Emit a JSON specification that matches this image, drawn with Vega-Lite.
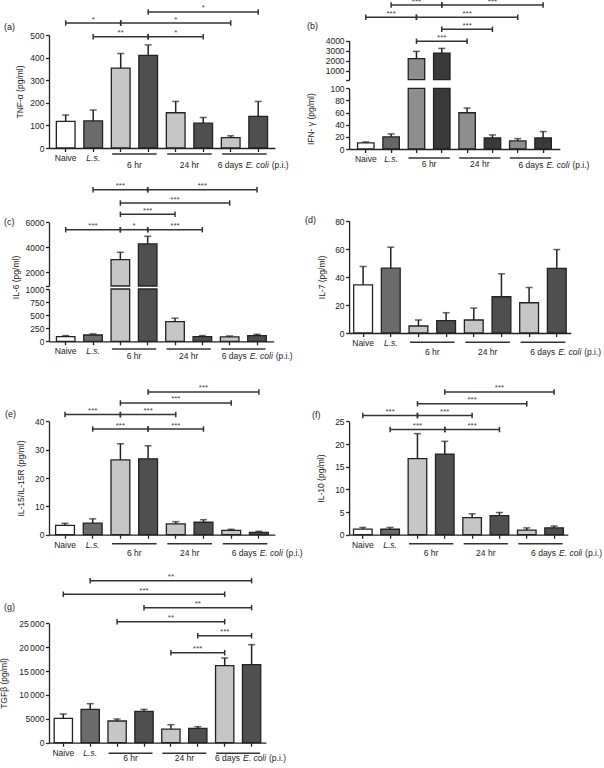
{
"$schema": "https://vega.github.io/schema/vega-lite/v6.json",
"background": "white",
"padding": {"left": -1, "top": -3, "right": 0, "bottom": 0},
"columns": 2,
"align": "each",
"bounds": "flush",
"spacing": {"row": 72, "column": 74.1},
"resolve": {"scale": {"fill": "independent"}},
"datasets": {
 "groups": [{"label":"6 hr","first":"6hr-1","last":"6hr-2"},{"label":"24 hr","first":"24hr-1","last":"24hr-2"},{"label":"6 days","first":"6d-1","last":"6d-2"}],
 "a": [{"cat":"Naive","value":118,"upper":146},{"cat":"L.s.","value":120,"upper":168},{"cat":"6hr-1","value":353,"upper":418},{"cat":"6hr-2","value":410,"upper":456},{"cat":"24hr-1","value":156,"upper":206},{"cat":"24hr-2","value":110,"upper":135},{"cat":"6d-1","value":46,"upper":54},{"cat":"6d-2","value":140,"upper":206}],
 "a_br": [{"from":"L.s.","to":"6hr-2","mid":"6hr-1","level":492,"sig":"**"},{"from":"6hr-2","to":"24hr-2","mid":"24hr-1","level":492,"sig":"*"},{"from":"Naive","to":"6hr-1","mid":"L.s.","level":553,"sig":"*"},{"from":"6hr-1","to":"6d-1","mid":"24hr-1","level":553,"sig":"*"},{"from":"6hr-2","to":"6d-2","mid":"24hr-2","level":602,"sig":"*"}],
 "b": [{"cat":"Naive","value":10,"upper":11.6},{"cat":"L.s.","value":19.9,"upper":24.9},{"cat":"6hr-1","value":2200,"upper":2933},{"cat":"6hr-2","value":2767,"upper":3233},{"cat":"24hr-1","value":59.7,"upper":67.4},{"cat":"24hr-2","value":18.2,"upper":23.2},{"cat":"6d-1","value":13.3,"upper":17.1},{"cat":"6d-2","value":18.2,"upper":28.7}],
 "b_br": [{"from":"6hr-1","to":"24hr-1","mid":"6hr-2","level":3940,"sig":"***"},{"from":"6hr-2","to":"24hr-2","mid":"24hr-1","level":5140,"sig":"***"},{"from":"Naive","to":"6hr-1","mid":"L.s.","level":6340,"sig":"***"},{"from":"6hr-1","to":"6d-1","mid":"24hr-1","level":6340,"sig":"***"},{"from":"L.s.","to":"6hr-2","mid":"6hr-1","level":7570,"sig":"***"},{"from":"6hr-2","to":"6d-2","mid":"24hr-2","level":7570,"sig":"***"}],
 "c": [{"cat":"Naive","value":90,"upper":109},{"cat":"L.s.","value":120,"upper":141},{"cat":"6hr-1","value":3013,"upper":3600},{"cat":"6hr-2","value":4267,"upper":4880},{"cat":"24hr-1","value":378,"upper":442},{"cat":"24hr-2","value":90,"upper":109},{"cat":"6d-1","value":83,"upper":102},{"cat":"6d-2","value":109,"upper":134}],
 "c_br": [{"from":"Naive","to":"6hr-1","mid":"L.s.","level":5408,"sig":"***"},{"from":"6hr-1","to":"6hr-2","level":5408,"sig":"*"},{"from":"6hr-2","to":"24hr-2","mid":"24hr-1","level":5408,"sig":"***"},{"from":"6hr-1","to":"24hr-1","mid":"6hr-2","level":6640,"sig":"***"},{"from":"6hr-1","to":"6d-1","mid":"24hr-1","level":7544,"sig":"***"},{"from":"L.s.","to":"6hr-2","mid":"6hr-1","level":8608,"sig":"***"},{"from":"6hr-2","to":"6d-2","mid":"24hr-2","level":8608,"sig":"***"}],
 "d": [{"cat":"Naive","value":34.4,"upper":47.5},{"cat":"L.s.","value":46.3,"upper":61.3},{"cat":"6hr-1","value":5,"upper":9.3},{"cat":"6hr-2","value":8.8,"upper":14.5},{"cat":"24hr-1","value":9.3,"upper":17.8},{"cat":"24hr-2","value":25.9,"upper":42.3},{"cat":"6d-1","value":21.6,"upper":32.5},{"cat":"6d-2","value":46.1,"upper":59.6}],
 "e": [{"cat":"Naive","value":3.3,"upper":4.0},{"cat":"L.s.","value":4.1,"upper":5.6},{"cat":"6hr-1","value":26.4,"upper":32.1},{"cat":"6hr-2","value":26.8,"upper":31.4},{"cat":"24hr-1","value":3.8,"upper":4.6},{"cat":"24hr-2","value":4.4,"upper":5.3},{"cat":"6d-1","value":1.5,"upper":1.9},{"cat":"6d-2","value":0.8,"upper":1.2}],
 "e_br": [{"from":"L.s.","to":"6hr-2","mid":"6hr-1","level":37.3,"sig":"***"},{"from":"6hr-2","to":"24hr-2","mid":"24hr-1","level":37.3,"sig":"***"},{"from":"Naive","to":"6hr-1","mid":"L.s.","level":42.4,"sig":"***"},{"from":"6hr-1","to":"24hr-1","mid":"6hr-2","level":42.4,"sig":"***"},{"from":"6hr-1","to":"6d-1","mid":"24hr-1","level":46.5,"sig":"***"},{"from":"6hr-2","to":"6d-2","mid":"24hr-2","level":50.4,"sig":"***"}],
 "f": [{"cat":"Naive","value":1.25,"upper":1.6},{"cat":"L.s.","value":1.2,"upper":1.6},{"cat":"6hr-1","value":16.8,"upper":22.3},{"cat":"6hr-2","value":17.8,"upper":20.6},{"cat":"24hr-1","value":3.75,"upper":4.6},{"cat":"24hr-2","value":4.2,"upper":4.9},{"cat":"6d-1","value":1.0,"upper":1.5},{"cat":"6d-2","value":1.5,"upper":1.9}],
 "f_br": [{"from":"L.s.","to":"6hr-2","mid":"6hr-1","level":23.2,"sig":"***"},{"from":"6hr-2","to":"24hr-2","mid":"24hr-1","level":23.2,"sig":"***"},{"from":"Naive","to":"6hr-1","mid":"L.s.","level":26.3,"sig":"***"},{"from":"6hr-1","to":"24hr-1","mid":"6hr-2","level":26.3,"sig":"***"},{"from":"6hr-1","to":"6d-1","mid":"24hr-1","level":28.9,"sig":"***"},{"from":"6hr-2","to":"6d-2","mid":"24hr-2","level":31.5,"sig":"***"}],
 "g": [{"cat":"Naive","value":5100,"upper":6000},{"cat":"L.s.","value":6980,"upper":8170},{"cat":"6hr-1","value":4540,"upper":4960},{"cat":"6hr-2","value":6560,"upper":6980},{"cat":"24hr-1","value":2860,"upper":3770},{"cat":"24hr-2","value":3000,"upper":3350},{"cat":"6d-1","value":16130,"upper":17740},{"cat":"6d-2","value":16340,"upper":20530}],
 "g_br": [{"from":"24hr-1","to":"6d-1","mid":"24hr-2","level":18840,"sig":"***"},{"from":"24hr-2","to":"6d-2","mid":"6d-1","level":22400,"sig":"***"},{"from":"6hr-1","to":"6d-1","mid":"24hr-1","level":25340,"sig":"**"},{"from":"6hr-2","to":"6d-2","mid":"24hr-2","level":28270,"sig":"**"},{"from":"Naive","to":"6d-1","mid":"6hr-2","level":31075,"sig":"***"},{"from":"L.s.","to":"6d-2","mid":"24hr-1","level":33925,"sig":"**"}]
},
"concat": [
{
 "width": 225.9, "height": 113,
 "title": {"text": "(a)", "dx": -45, "dy": 32},
 "layer": [
  {"data": {"name": "a"}, "mark": {"type": "bar", "stroke": "#222", "strokeWidth": 1.3},
   "encoding": {
    "x": {"field": "cat", "type": "nominal", "scale": {"domain": ["Naive","L.s.","6hr-1","6hr-2","24hr-1","24hr-2","6d-1","6d-2"], "paddingInner": 0.32, "paddingOuter": 0.267}, "axis": {"title": null, "labelAngle": 0, "labelExpr": "datum.value === 'Naive' || datum.value === 'L.s.' ? datum.value : ''", "labelFontStyle": {"condition": {"test": "datum.value === 'L.s.'", "value": "italic"}, "value": "normal"}}},
    "y": {"field": "value", "type": "quantitative", "scale": {"domain": [0, 500], "nice": false}, "axis": {"values": [0,100,200,300,400,500], "title": "TNF-α (pg/ml)"}},
    "fill": {"field": "cat", "type": "nominal", "scale": {"domain": ["Naive","L.s.","6hr-1","6hr-2","24hr-1","24hr-2","6d-1","6d-2"], "range": ["#ffffff","#6b6b6b","#c6c6c6","#4f4f4f","#c6c6c6","#4f4f4f","#c6c6c6","#4f4f4f"]}, "legend": null}}},
  {"data": {"name": "a"}, "mark": {"type": "rule", "color": "#222", "strokeWidth": 1.5},
   "encoding": {"x": {"field": "cat", "type": "nominal"}, "y": {"field": "value", "type": "quantitative", "axis": {"values": [0,100,200,300,400,500], "title": "TNF-α (pg/ml)"}}, "y2": {"field": "upper"}}},
  {"data": {"name": "a"}, "mark": {"type": "tick", "color": "#222", "size": 7, "thickness": 1.5},
   "encoding": {"x": {"field": "cat", "type": "nominal"}, "y": {"field": "upper", "type": "quantitative", "axis": {"values": [0,100,200,300,400,500], "title": "TNF-α (pg/ml)"}}}},
  {"data": {"name": "a_br"}, "mark": {"type": "rule", "color": "#333", "strokeWidth": 1.5},
   "encoding": {"x": {"field": "from", "type": "nominal"}, "x2": {"field": "to"}, "y": {"field": "level", "type": "quantitative", "axis": {"values": [0,100,200,300,400,500], "title": "TNF-α (pg/ml)"}}}},
  {"data": {"name": "a_br"}, "mark": {"type": "point", "shape": "M0,-1L0,1", "size": 30, "filled": false, "color": "#333", "strokeWidth": 1.5, "opacity": 1},
   "encoding": {"x": {"field": "from", "type": "nominal"}, "y": {"field": "level", "type": "quantitative", "axis": {"values": [0,100,200,300,400,500], "title": "TNF-α (pg/ml)"}}}},
  {"data": {"name": "a_br"}, "mark": {"type": "point", "shape": "M0,-1L0,1", "size": 30, "filled": false, "color": "#333", "strokeWidth": 1.5, "opacity": 1},
   "encoding": {"x": {"field": "to", "type": "nominal"}, "y": {"field": "level", "type": "quantitative", "axis": {"values": [0,100,200,300,400,500], "title": "TNF-α (pg/ml)"}}}},
  {"data": {"name": "a_br"}, "mark": {"type": "text", "fontSize": 8, "color": "#444", "dy": -1.5, "baseline": "alphabetic"},
   "encoding": {"x": {"field": "mid", "type": "nominal"}, "y": {"field": "level", "type": "quantitative", "axis": {"values": [0,100,200,300,400,500], "title": "TNF-α (pg/ml)"}}, "text": {"field": "sig"}}},
  {"data": {"name": "groups"}, "mark": {"type": "rule", "color": "#333", "strokeWidth": 1.5, "yOffset": 6, "xOffset": -8.5, "x2Offset": 8.5},
   "encoding": {"x": {"field": "first", "type": "nominal"}, "x2": {"field": "last"}, "y": {"datum": 0, "type": "quantitative", "axis": {"values": [0,100,200,300,400,500], "title": "TNF-α (pg/ml)"}}}},
  {"data": {"name": "groups"}, "transform": [{"filter": "datum.label !== '6 days'"}], "mark": {"type": "text", "fontSize": 8.5, "baseline": "middle", "dy": 17, "color": "#222"},
   "encoding": {"x": {"field": "first", "type": "nominal", "bandPosition": 1.235}, "y": {"datum": 0, "type": "quantitative", "axis": {"values": [0,100,200,300,400,500], "title": "TNF-α (pg/ml)"}}, "text": {"field": "label"}}},
  {"data": {"name": "groups"}, "transform": [{"filter": "datum.label === '6 days'"}], "mark": {"type": "text", "align": "left", "fontSize": 8.5, "baseline": "middle", "dy": 17, "dx": -13, "color": "#222"},
   "encoding": {"x": {"field": "first", "type": "nominal"}, "y": {"datum": 0, "type": "quantitative", "axis": {"values": [0,100,200,300,400,500], "title": "TNF-α (pg/ml)"}}, "text": {"field": "label"}}},
  {"data": {"name": "groups"}, "transform": [{"filter": "datum.label === '6 days'"}], "mark": {"type": "text", "text": "E. coli", "fontStyle": "italic", "align": "left", "fontSize": 8.5, "baseline": "middle", "dy": 17, "dx": 15, "color": "#222"},
   "encoding": {"x": {"field": "first", "type": "nominal"}, "y": {"datum": 0, "type": "quantitative", "axis": {"values": [0,100,200,300,400,500], "title": "TNF-α (pg/ml)"}}}},
  {"data": {"name": "groups"}, "transform": [{"filter": "datum.label === '6 days'"}], "mark": {"type": "text", "text": "(p.i.)", "align": "left", "fontSize": 8.5, "baseline": "middle", "dy": 17, "dx": 41, "color": "#222"},
   "encoding": {"x": {"field": "first", "type": "nominal"}, "y": {"datum": 0, "type": "quantitative", "axis": {"values": [0,100,200,300,400,500], "title": "TNF-α (pg/ml)"}}}}
 ]
},
{
 "width": 210.7, "height": 114,
 "title": {"text": "(b)", "dx": -42, "dy": 37},
 "resolve": {"scale": {"y": "independent"}, "axis": {"y": "independent"}},
 "layer": [
  {"layer": [
   {"data": {"name": "b"}, "mark": {"type": "bar", "stroke": "#222", "strokeWidth": 1.3},
    "encoding": {
     "x": {"field": "cat", "type": "nominal", "scale": {"domain": ["Naive","L.s.","6hr-1","6hr-2","24hr-1","24hr-2","6d-1","6d-2"], "paddingInner": 0.35, "paddingOuter": 0.334}, "axis": {"title": null, "labelAngle": 0, "labelExpr": "datum.value === 'Naive' || datum.value === 'L.s.' ? datum.value : ''", "labelFontStyle": {"condition": {"test": "datum.value === 'L.s.'", "value": "italic"}, "value": "normal"}}},
     "y": {"field": "value", "type": "quantitative", "scale": {"domain": [0, 100], "range": [114, 53.3], "clamp": true, "nice": false}, "axis": {"orient": "left", "values": [0,20,40,60,80,100], "title": "IFN- γ (pg/ml)", "titlePadding": 14}},
     "fill": {"field": "cat", "type": "nominal", "scale": {"domain": ["Naive","L.s.","6hr-1","6hr-2","24hr-1","24hr-2","6d-1","6d-2"], "range": ["#ffffff","#666666","#8e8e8e","#3a3a3a","#8e8e8e","#3a3a3a","#8e8e8e","#3a3a3a"]}, "legend": null}}},
   {"data": {"name": "b"}, "transform": [{"filter": "datum.value < 100"}], "mark": {"type": "rule", "color": "#222", "strokeWidth": 1.5},
    "encoding": {"x": {"field": "cat", "type": "nominal"}, "y": {"field": "value", "type": "quantitative", "axis": {"orient": "left", "values": [0,20,40,60,80,100], "title": "IFN- γ (pg/ml)", "titlePadding": 14}}, "y2": {"field": "upper"}}},
   {"data": {"name": "b"}, "transform": [{"filter": "datum.value < 100"}], "mark": {"type": "tick", "color": "#222", "size": 7, "thickness": 1.5},
    "encoding": {"x": {"field": "cat", "type": "nominal"}, "y": {"field": "upper", "type": "quantitative", "axis": {"orient": "left", "values": [0,20,40,60,80,100], "title": "IFN- γ (pg/ml)", "titlePadding": 14}}}},
   {"data": {"name": "groups"}, "mark": {"type": "rule", "color": "#333", "strokeWidth": 1.5, "yOffset": 9, "xOffset": -8, "x2Offset": 8},
    "encoding": {"x": {"field": "first", "type": "nominal"}, "x2": {"field": "last"}, "y": {"datum": 0, "type": "quantitative", "axis": {"orient": "left", "values": [0,20,40,60,80,100], "title": "IFN- γ (pg/ml)", "titlePadding": 14}}}},
   {"data": {"name": "groups"}, "transform": [{"filter": "datum.label !== '6 days'"}], "mark": {"type": "text", "fontSize": 8.5, "baseline": "middle", "dy": 15, "color": "#222"},
    "encoding": {"x": {"field": "first", "type": "nominal", "bandPosition": 1.269}, "y": {"datum": 0, "type": "quantitative", "axis": {"orient": "left", "values": [0,20,40,60,80,100], "title": "IFN- γ (pg/ml)", "titlePadding": 14}}, "text": {"field": "label"}}},
   {"data": {"name": "groups"}, "transform": [{"filter": "datum.label === '6 days'"}], "mark": {"type": "text", "align": "left", "fontSize": 8.5, "baseline": "middle", "dy": 16, "dx": 0.6, "color": "#222"},
    "encoding": {"x": {"field": "first", "type": "nominal"}, "y": {"datum": 0, "type": "quantitative", "axis": {"orient": "left", "values": [0,20,40,60,80,100], "title": "IFN- γ (pg/ml)", "titlePadding": 14}}, "text": {"field": "label"}}},
   {"data": {"name": "groups"}, "transform": [{"filter": "datum.label === '6 days'"}], "mark": {"type": "text", "text": "E. coli", "fontStyle": "italic", "align": "left", "fontSize": 8.5, "baseline": "middle", "dy": 16, "dx": 28.6, "color": "#222"},
    "encoding": {"x": {"field": "first", "type": "nominal"}, "y": {"datum": 0, "type": "quantitative", "axis": {"orient": "left", "values": [0,20,40,60,80,100], "title": "IFN- γ (pg/ml)", "titlePadding": 14}}}},
   {"data": {"name": "groups"}, "transform": [{"filter": "datum.label === '6 days'"}], "mark": {"type": "text", "text": "(p.i.)", "align": "left", "fontSize": 8.5, "baseline": "middle", "dy": 16, "dx": 54.6, "color": "#222"},
    "encoding": {"x": {"field": "first", "type": "nominal"}, "y": {"datum": 0, "type": "quantitative", "axis": {"orient": "left", "values": [0,20,40,60,80,100], "title": "IFN- γ (pg/ml)", "titlePadding": 14}}}}
  ]},
  {"layer": [
   {"data": {"name": "b"}, "transform": [{"filter": "datum.value >= 100"}], "mark": {"type": "bar", "stroke": "#222", "strokeWidth": 1.3},
    "encoding": {
     "x": {"field": "cat", "type": "nominal"},
     "y": {"field": "value", "type": "quantitative", "scale": {"domain": [100, 4000], "range": [44.7, 5.7], "clamp": true, "nice": false}, "axis": {"orient": "left", "values": [100,1000,2000,3000,4000], "labelExpr": "datum.value < 1000 ? '' : format(datum.value, 'd')", "title": null}},
     "y2": {"datum": 100},
     "fill": {"field": "cat", "type": "nominal", "legend": null}}},
   {"data": {"name": "b"}, "transform": [{"filter": "datum.value >= 100"}], "mark": {"type": "rule", "color": "#222", "strokeWidth": 1.5},
    "encoding": {"x": {"field": "cat", "type": "nominal"}, "y": {"field": "value", "type": "quantitative", "axis": {"orient": "left", "values": [100,1000,2000,3000,4000], "labelExpr": "datum.value < 1000 ? '' : format(datum.value, 'd')", "title": null}}, "y2": {"field": "upper"}}},
   {"data": {"name": "b"}, "transform": [{"filter": "datum.value >= 100"}], "mark": {"type": "tick", "color": "#222", "size": 7, "thickness": 1.5},
    "encoding": {"x": {"field": "cat", "type": "nominal"}, "y": {"field": "upper", "type": "quantitative", "axis": {"orient": "left", "values": [100,1000,2000,3000,4000], "labelExpr": "datum.value < 1000 ? '' : format(datum.value, 'd')", "title": null}}}}
  ]},
  {"layer": [
   {"data": {"name": "b_br"}, "mark": {"type": "rule", "color": "#333", "strokeWidth": 1.5},
    "encoding": {"x": {"field": "from", "type": "nominal"}, "x2": {"field": "to"}, "y": {"field": "level", "type": "quantitative", "scale": {"domain": [100, 4000], "range": [44.7, 5.7], "nice": false}, "axis": null}}},
   {"data": {"name": "b_br"}, "mark": {"type": "point", "shape": "M0,-1L0,1", "size": 30, "filled": false, "color": "#333", "strokeWidth": 1.5, "opacity": 1},
    "encoding": {"x": {"field": "from", "type": "nominal"}, "y": {"field": "level", "type": "quantitative", "axis": null}}},
   {"data": {"name": "b_br"}, "mark": {"type": "point", "shape": "M0,-1L0,1", "size": 30, "filled": false, "color": "#333", "strokeWidth": 1.5, "opacity": 1},
    "encoding": {"x": {"field": "to", "type": "nominal"}, "y": {"field": "level", "type": "quantitative", "axis": null}}},
   {"data": {"name": "b_br"}, "mark": {"type": "text", "fontSize": 8, "color": "#444", "dy": -1.5, "baseline": "alphabetic"},
    "encoding": {"x": {"field": "mid", "type": "nominal"}, "y": {"field": "level", "type": "quantitative", "axis": null}, "text": {"field": "sig"}}}
  ]}
 ]
},
{
 "width": 224.7, "height": 120.3,
 "title": {"text": "(c)", "dx": -45, "dy": 49},
 "resolve": {"scale": {"y": "independent"}, "axis": {"y": "independent"}},
 "layer": [
  {"layer": [
   {"data": {"name": "c"}, "mark": {"type": "bar", "stroke": "#222", "strokeWidth": 1.3},
    "encoding": {
     "x": {"field": "cat", "type": "nominal", "scale": {"domain": ["Naive","L.s.","6hr-1","6hr-2","24hr-1","24hr-2","6d-1","6d-2"], "paddingInner": 0.32, "paddingOuter": 0.271}, "axis": {"title": null, "labelAngle": 0, "labelExpr": "datum.value === 'Naive' || datum.value === 'L.s.' ? datum.value : ''", "labelFontStyle": {"condition": {"test": "datum.value === 'L.s.'", "value": "italic"}, "value": "normal"}}},
     "y": {"field": "value", "type": "quantitative", "scale": {"domain": [0, 1000], "range": [120.3, 68], "clamp": true, "nice": false}, "axis": {"orient": "left", "values": [0,250,500,750,1000], "labelExpr": "format(datum.value, 'd')", "title": "IL-6 (pg/ml)", "titleY": 56}},
     "fill": {"field": "cat", "type": "nominal", "scale": {"domain": ["Naive","L.s.","6hr-1","6hr-2","24hr-1","24hr-2","6d-1","6d-2"], "range": ["#ffffff","#6b6b6b","#c6c6c6","#4f4f4f","#c6c6c6","#4f4f4f","#c6c6c6","#4f4f4f"]}, "legend": null}}},
   {"data": {"name": "c"}, "transform": [{"filter": "datum.value < 900"}], "mark": {"type": "rule", "color": "#222", "strokeWidth": 1.5},
    "encoding": {"x": {"field": "cat", "type": "nominal"}, "y": {"field": "value", "type": "quantitative", "axis": {"orient": "left", "values": [0,250,500,750,1000], "labelExpr": "format(datum.value, 'd')", "title": "IL-6 (pg/ml)", "titleY": 56}}, "y2": {"field": "upper"}}},
   {"data": {"name": "c"}, "transform": [{"filter": "datum.value < 900"}], "mark": {"type": "tick", "color": "#222", "size": 7, "thickness": 1.5},
    "encoding": {"x": {"field": "cat", "type": "nominal"}, "y": {"field": "upper", "type": "quantitative", "axis": {"orient": "left", "values": [0,250,500,750,1000], "labelExpr": "format(datum.value, 'd')", "title": "IL-6 (pg/ml)", "titleY": 56}}}},
   {"data": {"name": "groups"}, "mark": {"type": "rule", "color": "#333", "strokeWidth": 1.5, "yOffset": 7.7, "xOffset": -8.5, "x2Offset": 8.5},
    "encoding": {"x": {"field": "first", "type": "nominal"}, "x2": {"field": "last"}, "y": {"datum": 0, "type": "quantitative", "axis": {"orient": "left", "values": [0,250,500,750,1000], "labelExpr": "format(datum.value, 'd')", "title": "IL-6 (pg/ml)", "titleY": 56}}}},
   {"data": {"name": "groups"}, "transform": [{"filter": "datum.label !== '6 days'"}], "mark": {"type": "text", "fontSize": 8.5, "baseline": "middle", "dy": 14.4, "color": "#222"},
    "encoding": {"x": {"field": "first", "type": "nominal", "bandPosition": 1.235}, "y": {"datum": 0, "type": "quantitative", "axis": {"orient": "left", "values": [0,250,500,750,1000], "labelExpr": "format(datum.value, 'd')", "title": "IL-6 (pg/ml)", "titleY": 56}}, "text": {"field": "label"}}},
   {"data": {"name": "groups"}, "transform": [{"filter": "datum.label === '6 days'"}], "mark": {"type": "text", "align": "left", "fontSize": 8.5, "baseline": "middle", "dy": 14.4, "dx": -8, "color": "#222"},
    "encoding": {"x": {"field": "first", "type": "nominal"}, "y": {"datum": 0, "type": "quantitative", "axis": {"orient": "left", "values": [0,250,500,750,1000], "labelExpr": "format(datum.value, 'd')", "title": "IL-6 (pg/ml)", "titleY": 56}}, "text": {"field": "label"}}},
   {"data": {"name": "groups"}, "transform": [{"filter": "datum.label === '6 days'"}], "mark": {"type": "text", "text": "E. coli", "fontStyle": "italic", "align": "left", "fontSize": 8.5, "baseline": "middle", "dy": 14.4, "dx": 20, "color": "#222"},
    "encoding": {"x": {"field": "first", "type": "nominal"}, "y": {"datum": 0, "type": "quantitative", "axis": {"orient": "left", "values": [0,250,500,750,1000], "labelExpr": "format(datum.value, 'd')", "title": "IL-6 (pg/ml)", "titleY": 56}}}},
   {"data": {"name": "groups"}, "transform": [{"filter": "datum.label === '6 days'"}], "mark": {"type": "text", "text": "(p.i.)", "align": "left", "fontSize": 8.5, "baseline": "middle", "dy": 14.4, "dx": 46, "color": "#222"},
    "encoding": {"x": {"field": "first", "type": "nominal"}, "y": {"datum": 0, "type": "quantitative", "axis": {"orient": "left", "values": [0,250,500,750,1000], "labelExpr": "format(datum.value, 'd')", "title": "IL-6 (pg/ml)", "titleY": 56}}}}
  ]},
  {"layer": [
   {"data": {"name": "c"}, "transform": [{"filter": "datum.value >= 900"}], "mark": {"type": "bar", "stroke": "#222", "strokeWidth": 1.3},
    "encoding": {
     "x": {"field": "cat", "type": "nominal"},
     "y": {"field": "value", "type": "quantitative", "scale": {"domain": [900, 6000], "range": [65, 1.3], "clamp": true, "nice": false}, "axis": {"orient": "left", "values": [900,2000,4000,6000], "labelExpr": "datum.value < 1000 ? '' : format(datum.value, 'd')", "title": null}},
     "y2": {"datum": 900},
     "fill": {"field": "cat", "type": "nominal", "legend": null}}},
   {"data": {"name": "c"}, "transform": [{"filter": "datum.value >= 900"}], "mark": {"type": "rule", "color": "#222", "strokeWidth": 1.5},
    "encoding": {"x": {"field": "cat", "type": "nominal"}, "y": {"field": "value", "type": "quantitative", "axis": {"orient": "left", "values": [900,2000,4000,6000], "labelExpr": "datum.value < 1000 ? '' : format(datum.value, 'd')", "title": null}}, "y2": {"field": "upper"}}},
   {"data": {"name": "c"}, "transform": [{"filter": "datum.value >= 900"}], "mark": {"type": "tick", "color": "#222", "size": 7, "thickness": 1.5},
    "encoding": {"x": {"field": "cat", "type": "nominal"}, "y": {"field": "upper", "type": "quantitative", "axis": {"orient": "left", "values": [900,2000,4000,6000], "labelExpr": "datum.value < 1000 ? '' : format(datum.value, 'd')", "title": null}}}}
  ]},
  {"layer": [
   {"data": {"name": "c_br"}, "mark": {"type": "rule", "color": "#333", "strokeWidth": 1.5},
    "encoding": {"x": {"field": "from", "type": "nominal"}, "x2": {"field": "to"}, "y": {"field": "level", "type": "quantitative", "scale": {"domain": [900, 6000], "range": [65, 1.3], "nice": false}, "axis": null}}},
   {"data": {"name": "c_br"}, "mark": {"type": "point", "shape": "M0,-1L0,1", "size": 30, "filled": false, "color": "#333", "strokeWidth": 1.5, "opacity": 1},
    "encoding": {"x": {"field": "from", "type": "nominal"}, "y": {"field": "level", "type": "quantitative", "axis": null}}},
   {"data": {"name": "c_br"}, "mark": {"type": "point", "shape": "M0,-1L0,1", "size": 30, "filled": false, "color": "#333", "strokeWidth": 1.5, "opacity": 1},
    "encoding": {"x": {"field": "to", "type": "nominal"}, "y": {"field": "level", "type": "quantitative", "axis": null}}},
   {"data": {"name": "c_br"}, "transform": [{"filter": "isValid(datum.mid)"}], "mark": {"type": "text", "fontSize": 8, "color": "#444", "dy": -1.5, "baseline": "alphabetic"},
    "encoding": {"x": {"field": "mid", "type": "nominal"}, "y": {"field": "level", "type": "quantitative", "axis": null}, "text": {"field": "sig"}}},
   {"data": {"name": "c_br"}, "transform": [{"filter": "!isValid(datum.mid)"}], "mark": {"type": "text", "fontSize": 8, "color": "#444", "dy": -1.5, "baseline": "alphabetic"},
    "encoding": {"x": {"field": "from", "type": "nominal", "bandPosition": 1.235}, "y": {"field": "level", "type": "quantitative", "axis": null}, "text": {"field": "sig"}}}
  ]}
 ]
},
{
 "width": 221.7, "height": 112,
 "title": {"text": "(d)", "dx": -44, "dy": 12},
 "layer": [
  {"data": {"name": "d"}, "mark": {"type": "bar", "stroke": "#222", "strokeWidth": 1.3},
   "encoding": {
    "x": {"field": "cat", "type": "nominal", "scale": {"domain": ["Naive","L.s.","6hr-1","6hr-2","24hr-1","24hr-2","6d-1","6d-2"], "paddingInner": 0.32, "paddingOuter": 0.166}, "axis": {"title": null, "labelAngle": 0, "labelExpr": "datum.value === 'Naive' || datum.value === 'L.s.' ? datum.value : ''", "labelFontStyle": {"condition": {"test": "datum.value === 'L.s.'", "value": "italic"}, "value": "normal"}}},
    "y": {"field": "value", "type": "quantitative", "scale": {"domain": [0, 80], "nice": false}, "axis": {"values": [0,20,40,60,80], "title": "IL-7 (pg/ml)", "titlePadding": 8}},
    "fill": {"field": "cat", "type": "nominal", "scale": {"domain": ["Naive","L.s.","6hr-1","6hr-2","24hr-1","24hr-2","6d-1","6d-2"], "range": ["#ffffff","#6b6b6b","#c6c6c6","#4f4f4f","#c6c6c6","#4f4f4f","#c6c6c6","#4f4f4f"]}, "legend": null}}},
  {"data": {"name": "d"}, "mark": {"type": "rule", "color": "#222", "strokeWidth": 1.5},
   "encoding": {"x": {"field": "cat", "type": "nominal"}, "y": {"field": "value", "type": "quantitative", "axis": {"values": [0,20,40,60,80], "title": "IL-7 (pg/ml)", "titlePadding": 8}}, "y2": {"field": "upper"}}},
  {"data": {"name": "d"}, "mark": {"type": "tick", "color": "#222", "size": 7, "thickness": 1.5},
   "encoding": {"x": {"field": "cat", "type": "nominal"}, "y": {"field": "upper", "type": "quantitative", "axis": {"values": [0,20,40,60,80], "title": "IL-7 (pg/ml)", "titlePadding": 8}}}},
  {"data": {"name": "groups"}, "mark": {"type": "rule", "color": "#333", "strokeWidth": 1.5, "yOffset": 9.3, "xOffset": -8.5, "x2Offset": 8.5},
   "encoding": {"x": {"field": "first", "type": "nominal"}, "x2": {"field": "last"}, "y": {"datum": 0, "type": "quantitative", "axis": {"values": [0,20,40,60,80], "title": "IL-7 (pg/ml)", "titlePadding": 8}}}},
  {"data": {"name": "groups"}, "transform": [{"filter": "datum.label !== '6 days'"}], "mark": {"type": "text", "fontSize": 8.5, "baseline": "middle", "dy": 19.3, "color": "#222"},
   "encoding": {"x": {"field": "first", "type": "nominal", "bandPosition": 1.235}, "y": {"datum": 0, "type": "quantitative", "axis": {"values": [0,20,40,60,80], "title": "IL-7 (pg/ml)", "titlePadding": 8}}, "text": {"field": "label"}}},
  {"data": {"name": "groups"}, "transform": [{"filter": "datum.label === '6 days'"}], "mark": {"type": "text", "align": "left", "fontSize": 8.5, "baseline": "middle", "dy": 19.3, "dx": 1, "color": "#222"},
   "encoding": {"x": {"field": "first", "type": "nominal"}, "y": {"datum": 0, "type": "quantitative", "axis": {"values": [0,20,40,60,80], "title": "IL-7 (pg/ml)", "titlePadding": 8}}, "text": {"field": "label"}}},
  {"data": {"name": "groups"}, "transform": [{"filter": "datum.label === '6 days'"}], "mark": {"type": "text", "text": "E. coli", "fontStyle": "italic", "align": "left", "fontSize": 8.5, "baseline": "middle", "dy": 19.3, "dx": 29, "color": "#222"},
   "encoding": {"x": {"field": "first", "type": "nominal"}, "y": {"datum": 0, "type": "quantitative", "axis": {"values": [0,20,40,60,80], "title": "IL-7 (pg/ml)", "titlePadding": 8}}}},
  {"data": {"name": "groups"}, "transform": [{"filter": "datum.label === '6 days'"}], "mark": {"type": "text", "text": "(p.i.)", "align": "left", "fontSize": 8.5, "baseline": "middle", "dy": 19.3, "dx": 55, "color": "#222"},
   "encoding": {"x": {"field": "first", "type": "nominal"}, "y": {"datum": 0, "type": "quantitative", "axis": {"values": [0,20,40,60,80], "title": "IL-7 (pg/ml)", "titlePadding": 8}}}}
 ]
},
{
 "width": 225.9, "height": 120.7,
 "title": {"text": "(e)", "dx": -44, "dy": 38.3},
 "layer": [
  {"data": {"name": "e"}, "mark": {"type": "bar", "stroke": "#222", "strokeWidth": 1.3},
   "encoding": {
    "x": {"field": "cat", "type": "nominal", "scale": {"domain": ["Naive","L.s.","6hr-1","6hr-2","24hr-1","24hr-2","6d-1","6d-2"], "paddingInner": 0.32, "paddingOuter": 0.238}, "axis": {"title": null, "labelAngle": 0, "labelExpr": "datum.value === 'Naive' || datum.value === 'L.s.' ? datum.value : ''", "labelFontStyle": {"condition": {"test": "datum.value === 'L.s.'", "value": "italic"}, "value": "normal"}}},
    "y": {"field": "value", "type": "quantitative", "scale": {"domain": [0, 40], "range": [120.7, 7.4], "nice": false}, "axis": {"values": [0,10,20,30,40], "title": "IL-15/IL-15R (pg/ml)", "titlePadding": 9}},
    "fill": {"field": "cat", "type": "nominal", "scale": {"domain": ["Naive","L.s.","6hr-1","6hr-2","24hr-1","24hr-2","6d-1","6d-2"], "range": ["#ffffff","#6b6b6b","#c6c6c6","#4f4f4f","#c6c6c6","#4f4f4f","#c6c6c6","#4f4f4f"]}, "legend": null}}},
  {"data": {"name": "e"}, "mark": {"type": "rule", "color": "#222", "strokeWidth": 1.5},
   "encoding": {"x": {"field": "cat", "type": "nominal"}, "y": {"field": "value", "type": "quantitative", "axis": {"values": [0,10,20,30,40], "title": "IL-15/IL-15R (pg/ml)", "titlePadding": 9}}, "y2": {"field": "upper"}}},
  {"data": {"name": "e"}, "mark": {"type": "tick", "color": "#222", "size": 7, "thickness": 1.5},
   "encoding": {"x": {"field": "cat", "type": "nominal"}, "y": {"field": "upper", "type": "quantitative", "axis": {"values": [0,10,20,30,40], "title": "IL-15/IL-15R (pg/ml)", "titlePadding": 9}}}},
  {"data": {"name": "e_br"}, "mark": {"type": "rule", "color": "#333", "strokeWidth": 1.5},
   "encoding": {"x": {"field": "from", "type": "nominal"}, "x2": {"field": "to"}, "y": {"field": "level", "type": "quantitative", "axis": {"values": [0,10,20,30,40], "title": "IL-15/IL-15R (pg/ml)", "titlePadding": 9}}}},
  {"data": {"name": "e_br"}, "mark": {"type": "point", "shape": "M0,-1L0,1", "size": 30, "filled": false, "color": "#333", "strokeWidth": 1.5, "opacity": 1},
   "encoding": {"x": {"field": "from", "type": "nominal"}, "y": {"field": "level", "type": "quantitative", "axis": {"values": [0,10,20,30,40], "title": "IL-15/IL-15R (pg/ml)", "titlePadding": 9}}}},
  {"data": {"name": "e_br"}, "mark": {"type": "point", "shape": "M0,-1L0,1", "size": 30, "filled": false, "color": "#333", "strokeWidth": 1.5, "opacity": 1},
   "encoding": {"x": {"field": "to", "type": "nominal"}, "y": {"field": "level", "type": "quantitative", "axis": {"values": [0,10,20,30,40], "title": "IL-15/IL-15R (pg/ml)", "titlePadding": 9}}}},
  {"data": {"name": "e_br"}, "mark": {"type": "text", "fontSize": 8, "color": "#444", "dy": -1.5, "baseline": "alphabetic"},
   "encoding": {"x": {"field": "mid", "type": "nominal"}, "y": {"field": "level", "type": "quantitative", "axis": {"values": [0,10,20,30,40], "title": "IL-15/IL-15R (pg/ml)", "titlePadding": 9}}, "text": {"field": "sig"}}},
  {"data": {"name": "groups"}, "mark": {"type": "rule", "color": "#333", "strokeWidth": 1.5, "yOffset": 9, "xOffset": -8.5, "x2Offset": 8.5},
   "encoding": {"x": {"field": "first", "type": "nominal"}, "x2": {"field": "last"}, "y": {"datum": 0, "type": "quantitative", "axis": {"values": [0,10,20,30,40], "title": "IL-15/IL-15R (pg/ml)", "titlePadding": 9}}}},
  {"data": {"name": "groups"}, "transform": [{"filter": "datum.label !== '6 days'"}], "mark": {"type": "text", "fontSize": 8.5, "baseline": "middle", "dy": 18.3, "color": "#222"},
   "encoding": {"x": {"field": "first", "type": "nominal", "bandPosition": 1.235}, "y": {"datum": 0, "type": "quantitative", "axis": {"values": [0,10,20,30,40], "title": "IL-15/IL-15R (pg/ml)", "titlePadding": 9}}, "text": {"field": "label"}}},
  {"data": {"name": "groups"}, "transform": [{"filter": "datum.label === '6 days'"}], "mark": {"type": "text", "align": "left", "fontSize": 8.5, "baseline": "middle", "dy": 18.3, "dx": 0.5, "color": "#222"},
   "encoding": {"x": {"field": "first", "type": "nominal"}, "y": {"datum": 0, "type": "quantitative", "axis": {"values": [0,10,20,30,40], "title": "IL-15/IL-15R (pg/ml)", "titlePadding": 9}}, "text": {"field": "label"}}},
  {"data": {"name": "groups"}, "transform": [{"filter": "datum.label === '6 days'"}], "mark": {"type": "text", "text": "E. coli", "fontStyle": "italic", "align": "left", "fontSize": 8.5, "baseline": "middle", "dy": 18.3, "dx": 28.5, "color": "#222"},
   "encoding": {"x": {"field": "first", "type": "nominal"}, "y": {"datum": 0, "type": "quantitative", "axis": {"values": [0,10,20,30,40], "title": "IL-15/IL-15R (pg/ml)", "titlePadding": 9}}}},
  {"data": {"name": "groups"}, "transform": [{"filter": "datum.label === '6 days'"}], "mark": {"type": "text", "text": "(p.i.)", "align": "left", "fontSize": 8.5, "baseline": "middle", "dy": 18.3, "dx": 54.5, "color": "#222"},
   "encoding": {"x": {"field": "first", "type": "nominal"}, "y": {"datum": 0, "type": "quantitative", "axis": {"values": [0,10,20,30,40], "title": "IL-15/IL-15R (pg/ml)", "titlePadding": 9}}}}
 ]
},
{
 "width": 218.7, "height": 120.7,
 "title": {"text": "(f)", "dx": -37, "dy": 40},
 "layer": [
  {"data": {"name": "f"}, "mark": {"type": "bar", "stroke": "#222", "strokeWidth": 1.3},
   "encoding": {
    "x": {"field": "cat", "type": "nominal", "scale": {"domain": ["Naive","L.s.","6hr-1","6hr-2","24hr-1","24hr-2","6d-1","6d-2"], "paddingInner": 0.32, "paddingOuter": 0.161}, "axis": {"title": null, "labelAngle": 0, "labelExpr": "datum.value === 'Naive' || datum.value === 'L.s.' ? datum.value : ''", "labelFontStyle": {"condition": {"test": "datum.value === 'L.s.'", "value": "italic"}, "value": "normal"}}},
    "y": {"field": "value", "type": "quantitative", "scale": {"domain": [0, 25], "range": [120.7, 7.4], "nice": false}, "axis": {"values": [0,5,10,15,20,25], "title": "IL-10 (pg/ml)", "titlePadding": 9}},
    "fill": {"field": "cat", "type": "nominal", "scale": {"domain": ["Naive","L.s.","6hr-1","6hr-2","24hr-1","24hr-2","6d-1","6d-2"], "range": ["#ffffff","#6b6b6b","#c6c6c6","#4f4f4f","#c6c6c6","#4f4f4f","#c6c6c6","#4f4f4f"]}, "legend": null}}},
  {"data": {"name": "f"}, "mark": {"type": "rule", "color": "#222", "strokeWidth": 1.5},
   "encoding": {"x": {"field": "cat", "type": "nominal"}, "y": {"field": "value", "type": "quantitative", "axis": {"values": [0,5,10,15,20,25], "title": "IL-10 (pg/ml)", "titlePadding": 9}}, "y2": {"field": "upper"}}},
  {"data": {"name": "f"}, "mark": {"type": "tick", "color": "#222", "size": 7, "thickness": 1.5},
   "encoding": {"x": {"field": "cat", "type": "nominal"}, "y": {"field": "upper", "type": "quantitative", "axis": {"values": [0,5,10,15,20,25], "title": "IL-10 (pg/ml)", "titlePadding": 9}}}},
  {"data": {"name": "f_br"}, "mark": {"type": "rule", "color": "#333", "strokeWidth": 1.5},
   "encoding": {"x": {"field": "from", "type": "nominal"}, "x2": {"field": "to"}, "y": {"field": "level", "type": "quantitative", "axis": {"values": [0,5,10,15,20,25], "title": "IL-10 (pg/ml)", "titlePadding": 9}}}},
  {"data": {"name": "f_br"}, "mark": {"type": "point", "shape": "M0,-1L0,1", "size": 30, "filled": false, "color": "#333", "strokeWidth": 1.5, "opacity": 1},
   "encoding": {"x": {"field": "from", "type": "nominal"}, "y": {"field": "level", "type": "quantitative", "axis": {"values": [0,5,10,15,20,25], "title": "IL-10 (pg/ml)", "titlePadding": 9}}}},
  {"data": {"name": "f_br"}, "mark": {"type": "point", "shape": "M0,-1L0,1", "size": 30, "filled": false, "color": "#333", "strokeWidth": 1.5, "opacity": 1},
   "encoding": {"x": {"field": "to", "type": "nominal"}, "y": {"field": "level", "type": "quantitative", "axis": {"values": [0,5,10,15,20,25], "title": "IL-10 (pg/ml)", "titlePadding": 9}}}},
  {"data": {"name": "f_br"}, "mark": {"type": "text", "fontSize": 8, "color": "#444", "dy": -1.5, "baseline": "alphabetic"},
   "encoding": {"x": {"field": "mid", "type": "nominal"}, "y": {"field": "level", "type": "quantitative", "axis": {"values": [0,5,10,15,20,25], "title": "IL-10 (pg/ml)", "titlePadding": 9}}, "text": {"field": "sig"}}},
  {"data": {"name": "groups"}, "mark": {"type": "rule", "color": "#333", "strokeWidth": 1.5, "yOffset": 9, "xOffset": -8.5, "x2Offset": 8.5},
   "encoding": {"x": {"field": "first", "type": "nominal"}, "x2": {"field": "last"}, "y": {"datum": 0, "type": "quantitative", "axis": {"values": [0,5,10,15,20,25], "title": "IL-10 (pg/ml)", "titlePadding": 9}}}},
  {"data": {"name": "groups"}, "transform": [{"filter": "datum.label !== '6 days'"}], "mark": {"type": "text", "fontSize": 8.5, "baseline": "middle", "dy": 18.3, "color": "#222"},
   "encoding": {"x": {"field": "first", "type": "nominal", "bandPosition": 1.235}, "y": {"datum": 0, "type": "quantitative", "axis": {"values": [0,5,10,15,20,25], "title": "IL-10 (pg/ml)", "titlePadding": 9}}, "text": {"field": "label"}}},
  {"data": {"name": "groups"}, "transform": [{"filter": "datum.label === '6 days'"}], "mark": {"type": "text", "align": "left", "fontSize": 8.5, "baseline": "middle", "dy": 18.3, "dx": 4.3, "color": "#222"},
   "encoding": {"x": {"field": "first", "type": "nominal"}, "y": {"datum": 0, "type": "quantitative", "axis": {"values": [0,5,10,15,20,25], "title": "IL-10 (pg/ml)", "titlePadding": 9}}, "text": {"field": "label"}}},
  {"data": {"name": "groups"}, "transform": [{"filter": "datum.label === '6 days'"}], "mark": {"type": "text", "text": "E. coli", "fontStyle": "italic", "align": "left", "fontSize": 8.5, "baseline": "middle", "dy": 18.3, "dx": 32.3, "color": "#222"},
   "encoding": {"x": {"field": "first", "type": "nominal"}, "y": {"datum": 0, "type": "quantitative", "axis": {"values": [0,5,10,15,20,25], "title": "IL-10 (pg/ml)", "titlePadding": 9}}}},
  {"data": {"name": "groups"}, "transform": [{"filter": "datum.label === '6 days'"}], "mark": {"type": "text", "text": "(p.i.)", "align": "left", "fontSize": 8.5, "baseline": "middle", "dy": 18.3, "dx": 58.3, "color": "#222"},
   "encoding": {"x": {"field": "first", "type": "nominal"}, "y": {"datum": 0, "type": "quantitative", "axis": {"values": [0,5,10,15,20,25], "title": "IL-10 (pg/ml)", "titlePadding": 9}}}}
 ]
},
{
 "width": 216.9, "height": 135.7,
 "title": {"text": "(g)", "dx": -45, "dy": 42.7},
 "layer": [
  {"data": {"name": "g"}, "mark": {"type": "bar", "stroke": "#222", "strokeWidth": 1.3},
   "encoding": {
    "x": {"field": "cat", "type": "nominal", "scale": {"domain": ["Naive","L.s.","6hr-1","6hr-2","24hr-1","24hr-2","6d-1","6d-2"], "paddingInner": 0.32, "paddingOuter": 0.192}, "axis": {"title": null, "labelAngle": 0, "labelExpr": "datum.value === 'Naive' || datum.value === 'L.s.' ? datum.value : ''", "labelFontStyle": {"condition": {"test": "datum.value === 'L.s.'", "value": "italic"}, "value": "normal"}}},
    "y": {"field": "value", "type": "quantitative", "scale": {"domain": [0, 25000], "range": [135.7, 16.3], "nice": false}, "axis": {"values": [0,5000,10000,15000,20000,25000], "labelExpr": "datum.value >= 10000 ? replace(format(datum.value, ','), ',', '\u2009') : format(datum.value, 'd')", "title": "TGFβ (pg/ml)", "titlePadding": 10}},
    "fill": {"field": "cat", "type": "nominal", "scale": {"domain": ["Naive","L.s.","6hr-1","6hr-2","24hr-1","24hr-2","6d-1","6d-2"], "range": ["#ffffff","#6b6b6b","#c6c6c6","#4f4f4f","#c6c6c6","#4f4f4f","#c6c6c6","#4f4f4f"]}, "legend": null}}},
  {"data": {"name": "g"}, "mark": {"type": "rule", "color": "#222", "strokeWidth": 1.5},
   "encoding": {"x": {"field": "cat", "type": "nominal"}, "y": {"field": "value", "type": "quantitative", "axis": {"values": [0,5000,10000,15000,20000,25000], "labelExpr": "datum.value >= 10000 ? replace(format(datum.value, ','), ',', '\u2009') : format(datum.value, 'd')", "title": "TGFβ (pg/ml)", "titlePadding": 10}}, "y2": {"field": "upper"}}},
  {"data": {"name": "g"}, "mark": {"type": "tick", "color": "#222", "size": 7, "thickness": 1.5},
   "encoding": {"x": {"field": "cat", "type": "nominal"}, "y": {"field": "upper", "type": "quantitative", "axis": {"values": [0,5000,10000,15000,20000,25000], "labelExpr": "datum.value >= 10000 ? replace(format(datum.value, ','), ',', '\u2009') : format(datum.value, 'd')", "title": "TGFβ (pg/ml)", "titlePadding": 10}}}},
  {"data": {"name": "g_br"}, "mark": {"type": "rule", "color": "#333", "strokeWidth": 1.5},
   "encoding": {"x": {"field": "from", "type": "nominal"}, "x2": {"field": "to"}, "y": {"field": "level", "type": "quantitative", "axis": {"values": [0,5000,10000,15000,20000,25000], "labelExpr": "datum.value >= 10000 ? replace(format(datum.value, ','), ',', '\u2009') : format(datum.value, 'd')", "title": "TGFβ (pg/ml)", "titlePadding": 10}}}},
  {"data": {"name": "g_br"}, "mark": {"type": "point", "shape": "M0,-1L0,1", "size": 30, "filled": false, "color": "#333", "strokeWidth": 1.5, "opacity": 1},
   "encoding": {"x": {"field": "from", "type": "nominal"}, "y": {"field": "level", "type": "quantitative", "axis": {"values": [0,5000,10000,15000,20000,25000], "labelExpr": "datum.value >= 10000 ? replace(format(datum.value, ','), ',', '\u2009') : format(datum.value, 'd')", "title": "TGFβ (pg/ml)", "titlePadding": 10}}}},
  {"data": {"name": "g_br"}, "mark": {"type": "point", "shape": "M0,-1L0,1", "size": 30, "filled": false, "color": "#333", "strokeWidth": 1.5, "opacity": 1},
   "encoding": {"x": {"field": "to", "type": "nominal"}, "y": {"field": "level", "type": "quantitative", "axis": {"values": [0,5000,10000,15000,20000,25000], "labelExpr": "datum.value >= 10000 ? replace(format(datum.value, ','), ',', '\u2009') : format(datum.value, 'd')", "title": "TGFβ (pg/ml)", "titlePadding": 10}}}},
  {"data": {"name": "g_br"}, "mark": {"type": "text", "fontSize": 8, "color": "#444", "dy": -1.5, "baseline": "alphabetic"},
   "encoding": {"x": {"field": "mid", "type": "nominal"}, "y": {"field": "level", "type": "quantitative", "axis": {"values": [0,5000,10000,15000,20000,25000], "labelExpr": "datum.value >= 10000 ? replace(format(datum.value, ','), ',', '\u2009') : format(datum.value, 'd')", "title": "TGFβ (pg/ml)", "titlePadding": 10}}, "text": {"field": "sig"}}},
  {"data": {"name": "groups"}, "mark": {"type": "rule", "color": "#333", "strokeWidth": 1.5, "yOffset": 10.6, "xOffset": -8.5, "x2Offset": 8.5},
   "encoding": {"x": {"field": "first", "type": "nominal"}, "x2": {"field": "last"}, "y": {"datum": 0, "type": "quantitative", "axis": {"values": [0,5000,10000,15000,20000,25000], "labelExpr": "datum.value >= 10000 ? replace(format(datum.value, ','), ',', '\u2009') : format(datum.value, 'd')", "title": "TGFβ (pg/ml)", "titlePadding": 10}}}},
  {"data": {"name": "groups"}, "transform": [{"filter": "datum.label !== '6 days'"}], "mark": {"type": "text", "fontSize": 8.5, "baseline": "middle", "dy": 15, "color": "#222"},
   "encoding": {"x": {"field": "first", "type": "nominal", "bandPosition": 1.235}, "y": {"datum": 0, "type": "quantitative", "axis": {"values": [0,5000,10000,15000,20000,25000], "labelExpr": "datum.value >= 10000 ? replace(format(datum.value, ','), ',', '\u2009') : format(datum.value, 'd')", "title": "TGFβ (pg/ml)", "titlePadding": 10}}, "text": {"field": "label"}}},
  {"data": {"name": "groups"}, "transform": [{"filter": "datum.label === '6 days'"}], "mark": {"type": "text", "align": "left", "fontSize": 8.5, "baseline": "middle", "dy": 15, "dx": -9.7, "color": "#222"},
   "encoding": {"x": {"field": "first", "type": "nominal"}, "y": {"datum": 0, "type": "quantitative", "axis": {"values": [0,5000,10000,15000,20000,25000], "labelExpr": "datum.value >= 10000 ? replace(format(datum.value, ','), ',', '\u2009') : format(datum.value, 'd')", "title": "TGFβ (pg/ml)", "titlePadding": 10}}, "text": {"field": "label"}}},
  {"data": {"name": "groups"}, "transform": [{"filter": "datum.label === '6 days'"}], "mark": {"type": "text", "text": "E. coli", "fontStyle": "italic", "align": "left", "fontSize": 8.5, "baseline": "middle", "dy": 15, "dx": 18.3, "color": "#222"},
   "encoding": {"x": {"field": "first", "type": "nominal"}, "y": {"datum": 0, "type": "quantitative", "axis": {"values": [0,5000,10000,15000,20000,25000], "labelExpr": "datum.value >= 10000 ? replace(format(datum.value, ','), ',', '\u2009') : format(datum.value, 'd')", "title": "TGFβ (pg/ml)", "titlePadding": 10}}}},
  {"data": {"name": "groups"}, "transform": [{"filter": "datum.label === '6 days'"}], "mark": {"type": "text", "text": "(p.i.)", "align": "left", "fontSize": 8.5, "baseline": "middle", "dy": 15, "dx": 44.3, "color": "#222"},
   "encoding": {"x": {"field": "first", "type": "nominal"}, "y": {"datum": 0, "type": "quantitative", "axis": {"values": [0,5000,10000,15000,20000,25000], "labelExpr": "datum.value >= 10000 ? replace(format(datum.value, ','), ',', '\u2009') : format(datum.value, 'd')", "title": "TGFβ (pg/ml)", "titlePadding": 10}}}}
 ]
}
],
"config": {
 "view": {"stroke": null},
 "font": "Liberation Sans",
 "text": {"font": "Liberation Sans"},
 "title": {"anchor": "start", "frame": "group", "offset": 0, "fontSize": 9, "fontWeight": "normal", "font": "Liberation Sans", "color": "#222", "baseline": "middle"},
 "axis": {"domainColor": "#222", "domainWidth": 1.3, "tickColor": "#222", "tickWidth": 1.3, "tickSize": 3.5, "labelColor": "#222", "labelFont": "Liberation Sans", "labelFontSize": 8.5, "labelPadding": 1.5, "titleFont": "Liberation Sans", "titleFontSize": 8.5, "titleFontWeight": "normal", "titleColor": "#222", "titlePadding": 5, "grid": false},
 "axisX": {"labelPadding": 2}
}
}
